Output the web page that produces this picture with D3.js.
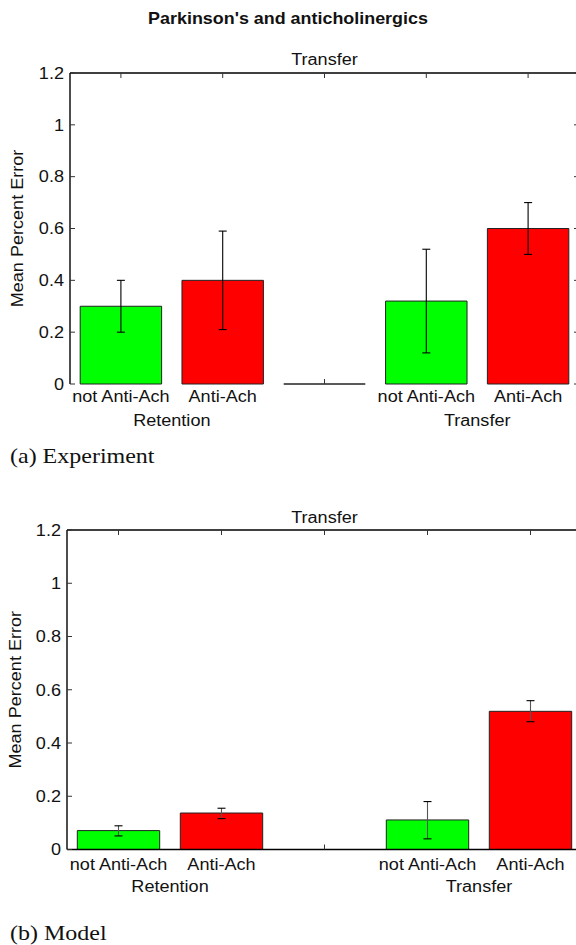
<!DOCTYPE html>
<html>
<head>
<meta charset="utf-8">
<script src="https://cdn.jsdelivr.net/npm/d3@7"></script>
<style>
  html, body { margin: 0; padding: 0; background: #fff; }
  svg { display: block; }
  text { font-family: "Liberation Sans", Arial, sans-serif; fill: #111; }
</style>
</head>
<body>
<svg id="chart" width="576" height="945"></svg>
<script>
// data
const positions = [1, 2, 3, 4, 5];
const barLabels = ["not Anti-Ach", "Anti-Ach", "", "not Anti-Ach", "Anti-Ach"];
const barColors = ["#00ff00", "#ff0000", "#ffffff", "#00ff00", "#ff0000"];
const groupLabels = ["Retention", "Transfer"];
const groupCenters = [1.5, 4.5];
const yTicks = [0, 0.2, 0.4, 0.6, 0.8, 1, 1.2];
const yTickLabels = ["0", "0.2", "0.4", "0.6", "0.8", "1", "1.2"];

const expMean = [0.30, 0.40, 0, 0.32, 0.60];
const expLow = [0.20, 0.21, null, 0.12, 0.50];
const expHigh = [0.40, 0.59, null, 0.52, 0.70];

const modelMean = [0.071, 0.137, 0, 0.111, 0.519];
const modelLow = [0.051, 0.116, null, 0.040, 0.480];
const modelHigh = [0.089, 0.155, null, 0.180, 0.559];

const svg = d3.select('#chart');
const SX = 1.13;   // fonts in the figure are a bit wide

// text helper: stretched horizontally along its own direction
function label(parent, x, y, str, opts = {}) {
  const g = parent.append('g')
    .attr('transform', `translate(${x},${y}) rotate(${opts.rotate || 0}) scale(${opts.sx || SX},1)`);
  g.append('text')
    .attr('text-anchor', opts.anchor || 'middle')
    .attr('dy', opts.dy || 0)
    .style('font-size', (opts.size || 16) + 'px')
    .style('font-weight', opts.bold ? 'bold' : 'normal')
    .style('font-family', opts.family || null)
    .text(str);
  return g;
}

function drawPanel(cfg) {
  const x = d3.scaleLinear().domain([0.5, 5.5]).range([cfg.left, cfg.right]);
  const y = d3.scaleLinear().domain([0, 1.2]).range([cfg.bottom, cfg.top]);
  const bw = (x(2) - x(1)) * 0.8;
  const g = svg.append('g');

  // bars (zero height one shows up as a flat line)
  g.selectAll('path.bar')
    .data(positions)
    .join('path')
    .attr('class', 'bar')
    .attr('d', (p, i) => {
      const x0 = x(p) - bw / 2, x1 = x(p) + bw / 2;
      return `M${x0},${y(0)}H${x1}V${y(cfg.mean[i])}H${x0}Z`;
    })
    .attr('fill', (p, i) => barColors[i])
    .attr('stroke', '#222')
    .attr('stroke-width', 1);

  // error bars
  const err = positions.map((p, i) => ({ p, lo: cfg.low[i], hi: cfg.high[i] }))
    .filter(d => d.lo !== null);
  const eg = g.selectAll('g.err').data(err).join('g').attr('class', 'err')
    .attr('stroke', cfg.errColor).attr('stroke-width', 1.1);
  eg.append('line')
    .attr('x1', d => x(d.p)).attr('x2', d => x(d.p))
    .attr('y1', d => y(d.lo)).attr('y2', d => y(d.hi));
  eg.append('line')
    .attr('x1', d => x(d.p) - 4).attr('x2', d => x(d.p) + 4)
    .attr('y1', d => y(d.hi)).attr('y2', d => y(d.hi)).attr('stroke', '#000');
  eg.append('line')
    .attr('x1', d => x(d.p) - 4).attr('x2', d => x(d.p) + 4)
    .attr('y1', d => y(d.lo)).attr('y2', d => y(d.lo)).attr('stroke', '#000');

  // axis lines
  const ax = g.append('g').attr('stroke', '#000').attr('stroke-width', 1.4).attr('fill', 'none');
  ax.append('line').attr('x1', cfg.left).attr('x2', cfg.left).attr('y1', cfg.top).attr('y2', cfg.bottom);
  ax.append('line').attr('x1', cfg.left).attr('x2', cfg.right).attr('y1', cfg.top).attr('y2', cfg.top);
  ax.append('line').attr('x1', cfg.right).attr('x2', cfg.right).attr('y1', cfg.top).attr('y2', cfg.bottom);
  if (cfg.bottomLine) {
    ax.append('line').attr('x1', cfg.left).attr('x2', cfg.right)
      .attr('y1', cfg.bottom).attr('y2', cfg.bottom);
  }

  // ticks, pointing inward
  const tk = g.append('g').attr('stroke', '#333').attr('stroke-width', 1);
  yTicks.forEach(t => {
    tk.append('line').attr('x1', cfg.left).attr('x2', cfg.left + 5).attr('y1', y(t)).attr('y2', y(t));
    tk.append('line').attr('x1', cfg.right).attr('x2', cfg.right - 5).attr('y1', y(t)).attr('y2', y(t));
  });
  positions.forEach(p => {
    tk.append('line').attr('x1', x(p)).attr('x2', x(p)).attr('y1', cfg.top).attr('y2', cfg.top + 5);
  });
  // only the middle bottom tick is visible over the bars
  tk.append('line').attr('x1', x(3)).attr('x2', x(3)).attr('y1', cfg.bottom).attr('y2', cfg.bottom - 5);

  yTicks.forEach((t, i) => {
    label(g, cfg.left - 6, y(t), yTickLabels[i], { anchor: 'end', dy: '0.36em' });
  });

  // category text under the bars
  positions.forEach((p, i) => {
    if (barLabels[i]) label(g, x(p), cfg.labelY, barLabels[i]);
  });
  groupCenters.forEach((c, i) => label(g, x(c), cfg.groupY, groupLabels[i]));

  label(g, (cfg.left + cfg.right) / 2, cfg.titleY, 'Transfer');
  label(g, cfg.ylabelX, (cfg.top + cfg.bottom) / 2, 'Mean Percent Error', { rotate: -90 });

  label(svg, 10, cfg.captionY, cfg.caption, {
    anchor: 'start', size: 20, sx: 1.2, family: '"Liberation Serif", "Times New Roman", serif'
  });
}

label(svg, 288, 24, "Parkinson's and anticholinergics", { bold: true, size: 16, sx: 1.12 });

drawPanel({
  top: 73, bottom: 384, left: 70, right: 579,
  mean: expMean, low: expLow, high: expHigh, errColor: '#000',
  titleY: 65, labelY: 402, groupY: 426, ylabelX: 23,
  caption: '(a) Experiment', captionY: 463, bottomLine: false
});

drawPanel({
  top: 530, bottom: 849.5, left: 67, right: 582,
  mean: modelMean, low: modelLow, high: modelHigh, errColor: '#555',
  titleY: 523, labelY: 870, groupY: 892, ylabelX: 21,
  caption: '(b) Model', captionY: 940, bottomLine: true
});
</script>
</body>
</html>
